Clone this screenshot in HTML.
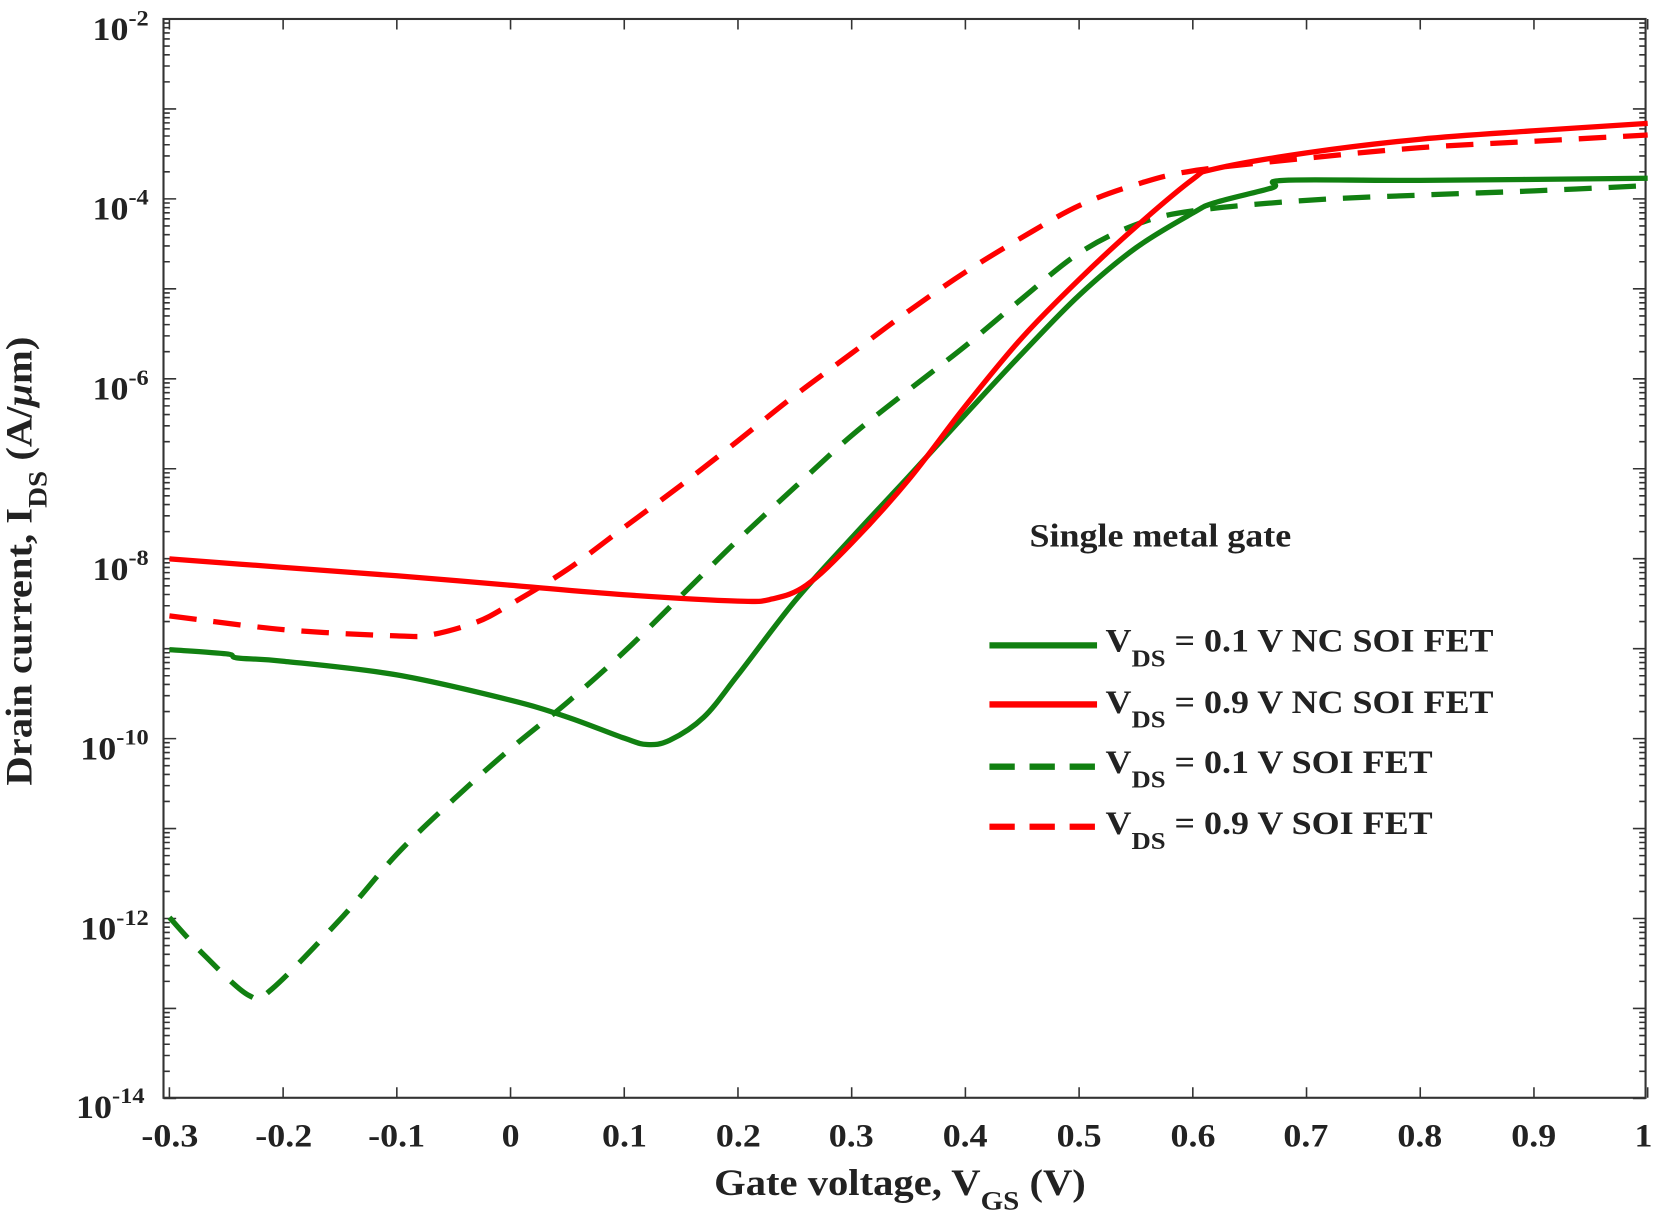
<!DOCTYPE html>
<html><head><meta charset="utf-8"><style>
html,body{margin:0;padding:0;background:#fff;}
svg{display:block;}
text{font-family:"Liberation Serif",serif;font-weight:bold;fill:#222;}
</style></head><body>
<svg width="1654" height="1218" viewBox="0 0 1568 1155" preserveAspectRatio="none" xmlns="http://www.w3.org/2000/svg">
<rect width="1568" height="1155" fill="#fff"/>
<g id="ticks" stroke="#333" stroke-width="1.5" fill="none"></g>
<rect x="155" y="18" width="1405" height="1023" fill="none" stroke="#333" stroke-width="2"/>
<g id="curves" fill="none" stroke-width="5" stroke-linejoin="round"></g>
<g font-size="31" class="s">
<text class="s" x="161" y="1087" text-anchor="middle">-0.3</text>
<text class="s" x="269" y="1087" text-anchor="middle">-0.2</text>
<text class="s" x="376" y="1087" text-anchor="middle">-0.1</text>
<text class="s" x="484" y="1087" text-anchor="middle">0</text>
<text class="s" x="592" y="1087" text-anchor="middle">0.1</text>
<text class="s" x="700" y="1087" text-anchor="middle">0.2</text>
<text class="s" x="807" y="1087" text-anchor="middle">0.3</text>
<text class="s" x="915" y="1087" text-anchor="middle">0.4</text>
<text class="s" x="1023" y="1087" text-anchor="middle">0.5</text>
<text class="s" x="1131" y="1087" text-anchor="middle">0.6</text>
<text class="s" x="1238" y="1087" text-anchor="middle">0.7</text>
<text class="s" x="1346" y="1087" text-anchor="middle">0.8</text>
<text class="s" x="1454" y="1087" text-anchor="middle">0.9</text>
<text class="s" x="1558" y="1087" text-anchor="middle">1</text>
</g>
<g font-size="31" text-anchor="end">
<text class="s" x="141" y="38">10<tspan dy="-14" font-size="21">-2</tspan></text>
<text class="s" x="141" y="208">10<tspan dy="-14" font-size="21">-4</tspan></text>
<text class="s" x="141" y="379">10<tspan dy="-14" font-size="21">-6</tspan></text>
<text class="s" x="141" y="550">10<tspan dy="-14" font-size="21">-8</tspan></text>
<text class="s" x="141" y="720">10<tspan dy="-14" font-size="21">-10</tspan></text>
<text class="s" x="141" y="891">10<tspan dy="-14" font-size="21">-12</tspan></text>
<text class="s" x="137" y="1060">10<tspan dy="-14" font-size="21">-14</tspan></text>
</g>
<text class="s" x="677" y="1133" font-size="35">Gate voltage, V<tspan dy="14" font-size="25">GS</tspan><tspan dy="-14"> (V)</tspan></text>
<text class="s" transform="translate(30,745) rotate(-90)" font-size="35">Drain current, I<tspan dy="14" font-size="25">DS</tspan><tspan dy="-14"> (A/<tspan font-style="italic">μ</tspan>m)</tspan></text>
<text class="s" x="976" y="518" font-size="31">Single metal gate</text>
<g font-size="31">
<line x1="938" y1="612" x2="1040" y2="612" stroke="#118011" stroke-width="6"/>
<line x1="938" y1="668" x2="1040" y2="668" stroke="#f00" stroke-width="6"/>
<line x1="938" y1="727" x2="1040" y2="727" stroke="#118011" stroke-width="6" stroke-dasharray="24,14"/>
<line x1="938" y1="784" x2="1040" y2="784" stroke="#f00" stroke-width="6" stroke-dasharray="24,14"/>
<text class="s" x="1048" y="618">V<tspan dy="14" font-size="23">DS</tspan><tspan dy="-14"> = 0.1 V NC SOI FET</tspan></text>
<text class="s" x="1048" y="676">V<tspan dy="14" font-size="23">DS</tspan><tspan dy="-14"> = 0.9 V NC SOI FET</tspan></text>
<text class="s" x="1048" y="733">V<tspan dy="14" font-size="23">DS</tspan><tspan dy="-14"> = 0.1 V SOI FET</tspan></text>
<text class="s" x="1048" y="791">V<tspan dy="14" font-size="23">DS</tspan><tspan dy="-14"> = 0.9 V  SOI FET</tspan></text>
</g>
</svg>
<script>
var NS="http://www.w3.org/2000/svg";
function X(v){return 484+1078*v;}
var t=document.getElementById("ticks"),d="";
for(var v=-3;v<=10;v++){var x=X(v/10);d+="M"+x+",1041v-10M"+x+",18v10";}
for(var e=-14;e<-2;e++){for(var k=1;k<10;k++){var y=18+(-2-(e+Math.log10(k)))*85.3;var L=k==1?12:6;d+="M155,"+y+"h"+L+"M1560,"+y+"h-"+L;}}
var tp=document.createElementNS(NS,"path");tp.setAttribute("d",d);t.appendChild(tp);
var C=document.getElementById("curves");
function add(pts,col,dash){var P=pts.map(function(q){return [X(q[0]),q[1]];});
var s="M"+P[0][0].toFixed(1)+","+P[0][1];
for(var i=0;i<P.length-1;i++){var p0=P[Math.max(0,i-1)],p1=P[i],p2=P[i+1],p3=P[Math.min(P.length-1,i+2)];
var c1=[p1[0]+(p2[0]-p0[0])/6,p1[1]+(p2[1]-p0[1])/6],c2=[p2[0]-(p3[0]-p1[0])/6,p2[1]-(p3[1]-p1[1])/6];
s+="C"+c1[0].toFixed(1)+","+c1[1].toFixed(1)+" "+c2[0].toFixed(1)+","+c2[1].toFixed(1)+" "+p2[0].toFixed(1)+","+p2[1];}
var el=document.createElementNS(NS,"path");el.setAttribute("d",s);el.setAttribute("stroke",col);if(dash)el.setAttribute("stroke-dasharray","26,16");C.appendChild(el);}
add([[-0.3,870],[-0.27,905],[-0.23,944],[-0.21,938],[-0.15,872],[-0.1,810],[-0.05,758],[0,710],[0.05,666],[0.1,618],[0.15,565],[0.2,512],[0.25,462],[0.3,413],[0.35,370],[0.4,328],[0.45,283],[0.5,240],[0.55,213],[0.6,200],[0.7,190],[0.8,185],[0.9,181],[1,176]],"#118011",1);
add([[-0.3,584],[-0.2,597],[-0.1,603],[-0.07,602],[-0.03,590],[0,573],[0.05,540],[0.1,500],[0.15,460],[0.2,418],[0.25,375],[0.3,335],[0.35,295],[0.4,258],[0.45,225],[0.5,195],[0.55,175],[0.6,162],[0.7,150],[0.8,140],[0.9,134],[1,128]],"#f00",1);
add([[-0.3,616],[-0.25,620],[-0.24,624],[-0.2,627],[-0.1,640],[0,664],[0.05,680],[0.1,700],[0.12,706],[0.14,702],[0.17,680],[0.2,640],[0.25,570],[0.3,510],[0.35,452],[0.4,393],[0.45,335],[0.5,280],[0.55,235],[0.6,202],[0.62,192],[0.67,178],[0.68,171],[0.8,171],[1,169]],"#118011",0);
add([[-0.3,530],[-0.2,538],[-0.1,546],[0,555],[0.1,564],[0.2,570],[0.23,568],[0.26,555],[0.3,515],[0.35,455],[0.4,385],[0.45,320],[0.5,265],[0.55,215],[0.6,170],[0.62,160],[0.7,145],[0.8,132],[0.9,124],[1,117]],"#f00",0);
document.querySelectorAll("text.s").forEach(function(tx){var w=tx.getComputedTextLength();tx.setAttribute("textLength",(w*1.1).toFixed(1));tx.setAttribute("lengthAdjust","spacingAndGlyphs");});
</script>
</body></html>
